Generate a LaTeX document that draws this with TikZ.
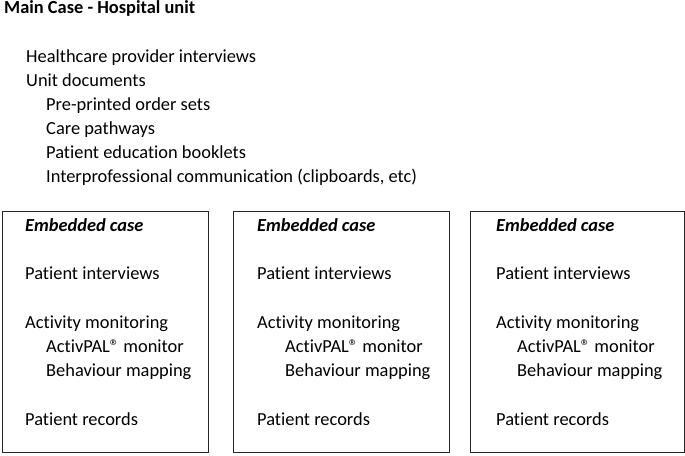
\documentclass[tikz,border=0pt]{standalone}
\usepackage{fontspec}
\setmainfont[Ligatures=NoCommon]{Carlito}
\usepackage{tikz}

\begin{document}
\begin{tikzpicture}[x=1pt, y=-1pt,
	txt/.style={black, anchor=base west, inner sep=0pt, font=\fontsize{18.4}{24}\selectfont},
	casebox/.style={draw=black!85, line width=1pt, solid}]
	\useasboundingbox (0,0) rectangle (685,455);
	% main case
	\node[txt, font=\fontsize{18.4}{24}\selectfont\bfseries] (title) at (4,13) {Main Case - Hospital unit};
	\node[txt] (hcp) at (26,62) {Healthcare provider interviews};
	\node[txt] (unitdocs) at (26,86) {Unit documents};
	\node[txt] (orders) at (46,110) {Pre-printed order sets};
	\node[txt] (pathways) at (46,134) {Care pathways};
	\node[txt] (booklets) at (46,158) {Patient education booklets};
	\node[txt] (ipc) at (46,182) {Interprofessional communication (clipboards, etc)};
	% embedded cases
	\draw[casebox] (2,211) rectangle (208,452);
	\draw[casebox] (233,211) rectangle (449,452);
	\draw[casebox] (470,211) rectangle (684,452);
	\node[txt, font=\fontsize{18.4}{24}\selectfont\bfseries\itshape] (embA) at (25,231) {Embedded case};
	\node[txt] (intA) at (25,279) {Patient interviews};
	\node[txt] (actA) at (25,328) {Activity monitoring};
	\node[txt] (palA) at (46,352) {ActivPAL® monitor};
	\node[txt] (mapA) at (46,376) {Behaviour mapping};
	\node[txt] (recA) at (25,425) {Patient records};
	\node[txt, font=\fontsize{18.4}{24}\selectfont\bfseries\itshape] (embB) at (257,231) {Embedded case};
	\node[txt] (intB) at (257,279) {Patient interviews};
	\node[txt] (actB) at (257,328) {Activity monitoring};
	\node[txt] (palB) at (285,352) {ActivPAL® monitor};
	\node[txt] (mapB) at (285,376) {Behaviour mapping};
	\node[txt] (recB) at (257,425) {Patient records};
	\node[txt, font=\fontsize{18.4}{24}\selectfont\bfseries\itshape] (embC) at (496,231) {Embedded case};
	\node[txt] (intC) at (496,279) {Patient interviews};
	\node[txt] (actC) at (496,328) {Activity monitoring};
	\node[txt] (palC) at (517,352) {ActivPAL® monitor};
	\node[txt] (mapC) at (517,376) {Behaviour mapping};
	\node[txt] (recC) at (496,425) {Patient records};
\end{tikzpicture}
\end{document}
